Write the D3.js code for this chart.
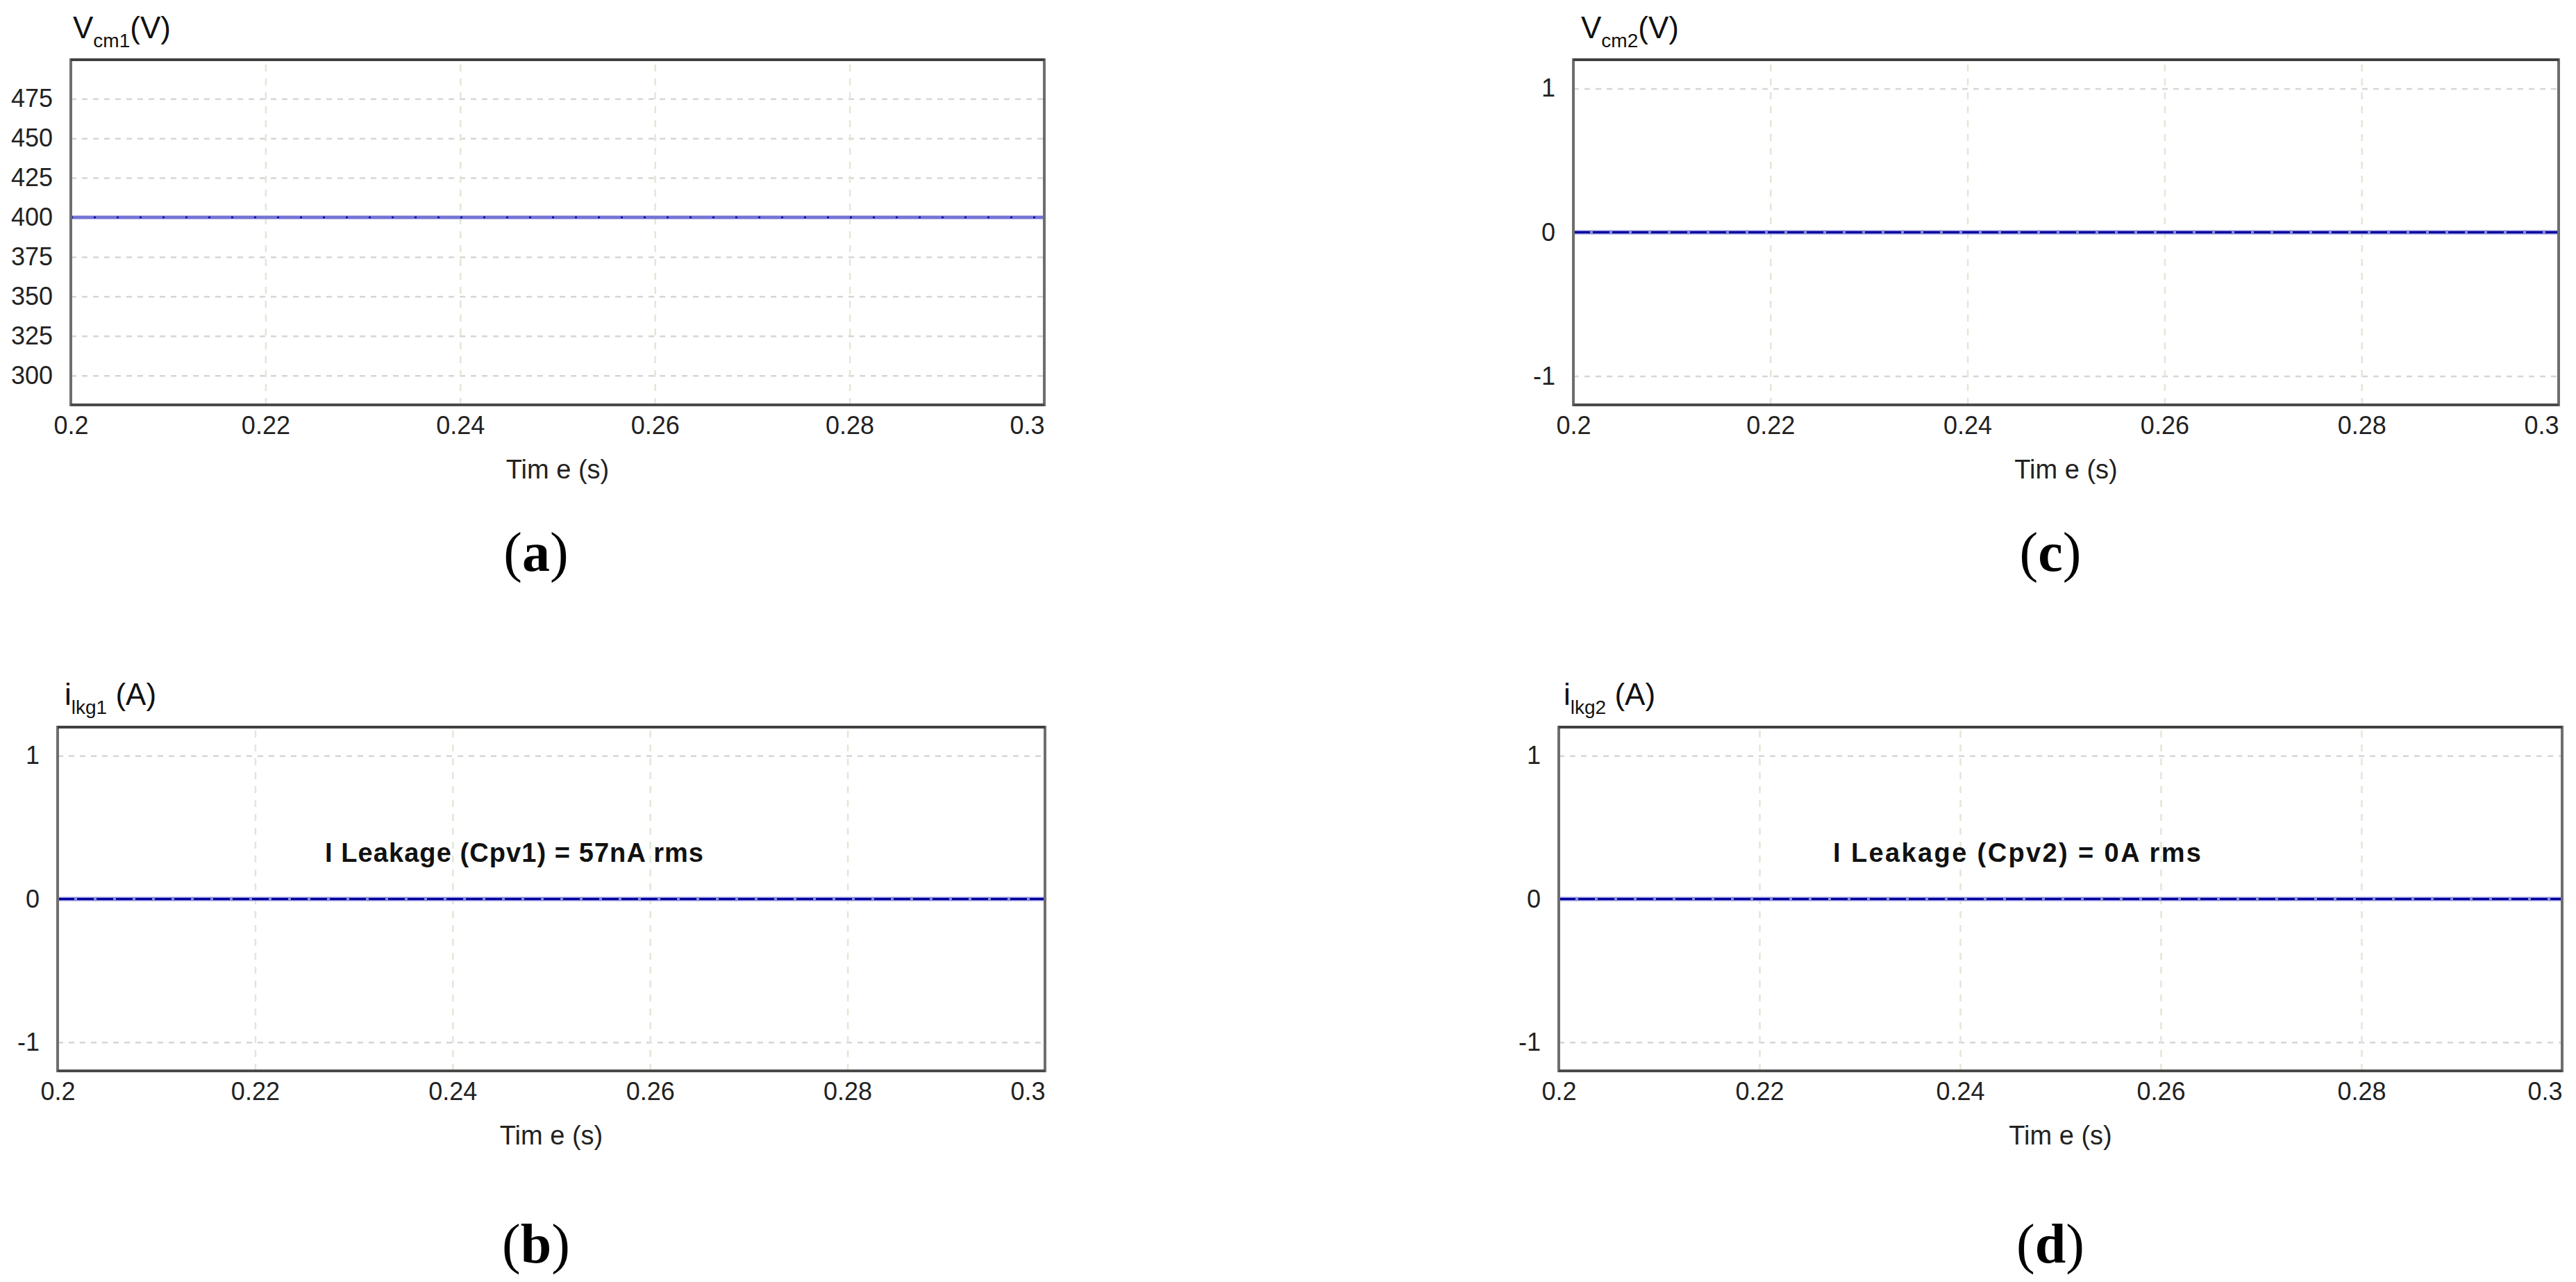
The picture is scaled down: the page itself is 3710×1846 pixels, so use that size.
<!DOCTYPE html>
<html>
<head>
<meta charset="utf-8">
<script src="https://cdn.jsdelivr.net/npm/d3@7"></script>
<style>
  body { margin: 0; background: #fff; }
  svg { display: block; }
  .tick text { font-family: "Liberation Sans", Arial, sans-serif; fill: #222; }
</style>
</head>
<body>
<div id="chart"></div>
<script>
// Data
var timeS = [0.2, 0.3];
var vcm1 = [400, 400];
var vcm2 = [0, 0];
var ilkg1 = [0, 0];
var ilkg2 = [0, 0];

var xTicks = [0.2, 0.22, 0.24, 0.26, 0.28, 0.3];
var yTicksVcm1 = [300, 325, 350, 375, 400, 425, 450, 475];
var yTicksUnit = [-1, 0, 1];

var notes = ["I Leakage (Cpv1) = 57nA rms", "I Leakage (Cpv2) = 0A rms"];

var svgWidth = 3710;
var svgHeight = 1846;

var svg = d3.select("#chart")
    .append("svg")
    .attr("width", svgWidth)
    .attr("height", svgHeight);

// one entry per panel: where its frame sits and what it shows
var panels = [
    { box: [102, 86, 1504, 583], y: vcm1, yDomain: [281.4, 499.7], yTicks: yTicksVcm1,
      title: ["V", "cm1", "(V)"], titleX: 105, titleY: 55, letter: "(a)", letterX: 772, letterY: 822, dotted: true },
    { box: [2266, 86, 3685, 583], y: vcm2, yDomain: [-1.2, 1.2], yTicks: yTicksUnit,
      title: ["V", "cm2", "(V)"], titleX: 2277, titleY: 55, letter: "(c)", letterX: 2953, letterY: 822 },
    { box: [83, 1047, 1505, 1542], y: ilkg1, yDomain: [-1.2, 1.2], yTicks: yTicksUnit,
      title: ["i", "lkg1", "\u00a0(A)"], titleX: 93, titleY: 1015, letter: "(b)", letterX: 772, letterY: 1818,
      note: notes[0], noteX: 468, noteW: 545 },
    { box: [2245, 1047, 3690, 1542], y: ilkg2, yDomain: [-1.2, 1.2], yTicks: yTicksUnit,
      title: ["i", "lkg2", "\u00a0(A)"], titleX: 2252, titleY: 1015, letter: "(d)", letterX: 2953, letterY: 1818,
      note: notes[1], noteX: 2640, noteW: 530 }
];

panels.forEach(function(p) {
    var x0 = p.box[0], y0 = p.box[1];
    var w = p.box[2] - p.box[0], h = p.box[3] - p.box[1];

    var x = d3.scaleLinear().domain([0.2, 0.3]).range([0, w]);
    var y = d3.scaleLinear().domain(p.yDomain).range([h, 0]);

    var g = svg.append("g").attr("transform", `translate(${x0}, ${y0})`);

    // gridlines
    g.append("g")
        .call(d3.axisLeft(y).tickValues(p.yTicks).tickSize(-w).tickFormat(""))
        .call(s => s.select(".domain").remove())
        .selectAll("line")
        .attr("stroke", "#d6d6d6")
        .attr("stroke-width", 2.5)
        .attr("stroke-dasharray", "8,8");

    g.append("g")
        .attr("transform", `translate(0, ${h})`)
        .call(d3.axisBottom(x).tickValues(xTicks.slice(1, -1)).tickSize(-h).tickFormat(""))
        .call(s => s.select(".domain").remove())
        .selectAll("line")
        .attr("stroke", "#dfe9d6")
        .attr("stroke-width", 2.5)
        .attr("stroke-dasharray", "10,10");

    // the trace
    var pts = timeS.map((t, i) => [t, p.y[i]]);
    var line = d3.line().x(d => x(d[0])).y(d => y(d[1]));

    g.append("path")
        .attr("d", line(pts))
        .attr("fill", "none")
        .attr("stroke", p.dotted ? "#7474d4" : "#8a8ad8")
        .attr("stroke-width", p.dotted ? 5 : 6);

    g.append("path")
        .attr("d", line(pts))
        .attr("fill", "none")
        .attr("stroke", "#0000a0")
        .attr("stroke-width", p.dotted ? 2.5 : 3)
        .attr("stroke-dasharray", p.dotted ? "3,30" : "24,4");

    // frame
    g.append("rect")
        .attr("width", w)
        .attr("height", h)
        .attr("fill", "none")
        .attr("stroke", "#6e6e6e")
        .attr("stroke-width", 4);
    g.append("line").attr("x1", 0).attr("x2", w).attr("y1", 0).attr("y2", 0)
        .attr("stroke", "#404040").attr("stroke-width", 4);
    g.append("line").attr("x1", 0).attr("x2", w).attr("y1", h).attr("y2", h)
        .attr("stroke", "#4a4a4a").attr("stroke-width", 4);

    // axes labels
    g.append("g")
        .call(d3.axisLeft(y).tickValues(p.yTicks).tickSize(0).tickPadding(26).tickFormat(d => String(d)))
        .call(s => s.select(".domain").remove())
        .selectAll("text")
        .style("font-size", "36px");

    g.append("g")
        .attr("transform", `translate(0, ${h})`)
        .call(d3.axisBottom(x).tickValues(xTicks).tickSize(0).tickPadding(16).tickFormat(d => String(d)))
        .call(s => s.select(".domain").remove())
        .selectAll("text")
        .style("font-size", "36px")
        .attr("text-anchor", d => d === xTicks[xTicks.length - 1] ? "end" : "middle");

    g.append("text")
        .attr("x", w / 2)
        .attr("y", h + 106)
        .attr("text-anchor", "middle")
        .style("font-family", "Liberation Sans, Arial, sans-serif")
        .style("font-size", "38px")
        .attr("fill", "#222")
        .text("Tim e (s)");

    // title with subscript
    var t = svg.append("text")
        .attr("x", p.titleX)
        .attr("y", p.titleY)
        .style("font-family", "Liberation Sans, Arial, sans-serif")
        .style("font-size", "44px")
        .attr("fill", "#111");
    t.append("tspan").text(p.title[0]);
    t.append("tspan").attr("dy", 13).style("font-size", "28px").text(p.title[1]);
    t.append("tspan").attr("dy", -13).text(p.title[2]);

    if (p.note) {
        svg.append("text")
            .attr("x", p.noteX)
            .attr("y", 1241)
            .attr("textLength", p.noteW)
            .style("font-family", "Liberation Sans, Arial, sans-serif")
            .style("font-size", "38px")
            .style("font-weight", "bold")
            .attr("fill", "#111")
            .text(p.note);
    }

    svg.append("text")
        .attr("x", p.letterX)
        .attr("y", p.letterY)
        .attr("text-anchor", "middle")
        .style("font-family", "Liberation Serif, Times New Roman, serif")
        .style("font-size", "80px")
        .attr("fill", "#000")
        .html(`(<tspan font-weight="bold">${p.letter[1]}</tspan>)`);
});
</script>
</body>
</html>
